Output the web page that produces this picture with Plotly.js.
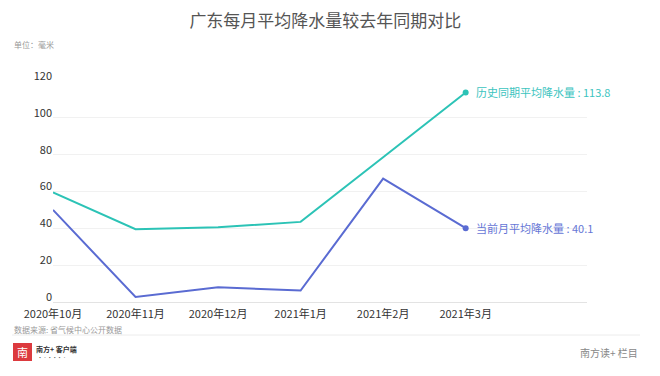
<!DOCTYPE html>
<html>
<head>
<meta charset="utf-8">
<script src="https://cdn.plot.ly/plotly-3.0.1.min.js"></script>
<style>html,body{margin:0;padding:0;background:#fff;}#chart{width:660px;height:376px;}</style>
</head>
<body>
<div id="chart"></div>
<script>
const months = ["2020年10月", "2020年11月", "2020年12月", "2021年1月", "2021年2月", "2021年3月"];
const historical = [59.5, 39.5, 40.6, 43.5, 78.6, 113.8];
const current = [50, 2.7, 8, 6.2, 67, 40.1];
const histName = "历史同期平均降水量";
const curName = "当前月平均降水量";
const yTicks = [0, 20, 40, 60, 80, 100, 120];

const FONT = '"Noto Sans CJK SC", "Noto Sans", sans-serif';
const TEAL = '#2cc3b6';
const BLUE = '#5a6bd2';

const L = 53, R = 587, T = 81, B = 302;
const px = x => (x - L) / (R - L);
const py = y => (B - y) / (B - T);

const n = months.length;
const traces = [
  {x: months, y: historical, type: 'scatter', mode: 'lines', line: {color: TEAL, width: 2}, hoverinfo: 'none', cliponaxis: false},
  {x: months, y: current, type: 'scatter', mode: 'lines', line: {color: BLUE, width: 2}, hoverinfo: 'none', cliponaxis: false},
  {x: [months[n-1]], y: [historical[n-1]], type: 'scatter', mode: 'markers', marker: {color: TEAL, size: 6}, hoverinfo: 'none', cliponaxis: false},
  {x: [months[n-1]], y: [current[n-1]], type: 'scatter', mode: 'markers', marker: {color: BLUE, size: 6}, hoverinfo: 'none', cliponaxis: false}
];

const layout = {
  width: 660, height: 376,
  margin: {l: L, r: 660 - R, t: T, b: 376 - B, pad: 0},
  paper_bgcolor: '#fff', plot_bgcolor: '#fff',
  showlegend: false,
  font: {family: FONT, color: '#333', size: 11},
  title: {text: '广东每月平均降水量较去年同期对比', font: {family: FONT, size: 17, color: '#555'},
          x: 0.493, xanchor: 'center', y: 1 - 21/376, yanchor: 'middle', xref: 'container', yref: 'container'},
  xaxis: {type: 'category', range: [0, 6.47], showgrid: false, zeroline: false,
          showline: false, ticks: '', ticklabelstandoff: 4, tickfont: {family: FONT, size: 11, color: '#333'},
          fixedrange: true},
  yaxis: {range: [0, 120], tickvals: yTicks, ticktext: yTicks.map(String), ticklabelshift: -5,
          showgrid: true, gridcolor: '#f1f1f1', gridwidth: 1, zeroline: true, zerolinecolor: '#e3e3e3', zerolinewidth: 1,
          showline: false, ticks: '', tickfont: {family: FONT, size: 11, color: '#333'}, fixedrange: true},
  annotations: [
    {x: months[n-1], y: historical[n-1], xref: 'x', yref: 'y', text: histName + ' : ' + historical[n-1].toFixed(1),
     showarrow: false, xanchor: 'left', yanchor: 'middle', xshift: 8, font: {family: FONT, size: 11, color: '#3cc4c0'}},
    {x: months[n-1], y: current[n-1], xref: 'x', yref: 'y', text: curName + ' : ' + current[n-1].toFixed(1),
     showarrow: false, xanchor: 'left', yanchor: 'middle', xshift: 8, font: {family: FONT, size: 11, color: '#6676d6'}},
    {x: px(12), y: py(45), xref: 'paper', yref: 'paper', text: '单位：毫米', showarrow: false,
     xanchor: 'left', yanchor: 'middle', font: {family: FONT, size: 8, color: '#999'}},
    {x: px(12), y: py(329), xref: 'paper', yref: 'paper', text: '数据来源: 省气候中心公开数据', showarrow: false,
     xanchor: 'left', yanchor: 'middle', font: {family: FONT, size: 8, color: '#999'}},
    {x: px(22.5), y: py(352), xref: 'paper', yref: 'paper', text: '南', showarrow: false,
     xanchor: 'center', yanchor: 'middle', font: {family: FONT, size: 11, color: '#fff'}},
    {x: px(34), y: py(349), xref: 'paper', yref: 'paper', text: '<b>南方+ 客户端</b>', showarrow: false,
     xanchor: 'left', yanchor: 'middle', font: {family: FONT, size: 7, color: '#333'}},
    {x: px(36), y: py(358), xref: 'paper', yref: 'paper', text: '▪ · ▪ ▪ ▪ ·', showarrow: false,
     xanchor: 'left', yanchor: 'middle', font: {family: FONT, size: 4, color: '#666'}},
    {x: px(640), y: py(352), xref: 'paper', yref: 'paper', text: '南方读+ 栏目', showarrow: false,
     xanchor: 'right', yanchor: 'middle', font: {family: FONT, size: 10, color: '#888'}}
  ],
  shapes: [
    {type: 'line', xref: 'paper', yref: 'paper', x0: px(12), x1: px(640), y0: py(335), y1: py(335),
     line: {color: '#ececec', width: 1}},
    {type: 'rect', xref: 'paper', yref: 'paper', x0: px(13), x1: px(32), y0: py(343), y1: py(361),
     fillcolor: '#dc3a3e', line: {width: 0}}
  ]
};

Plotly.newPlot('chart', traces, layout, {displayModeBar: false, staticPlot: true});
</script>
</body>
</html>
